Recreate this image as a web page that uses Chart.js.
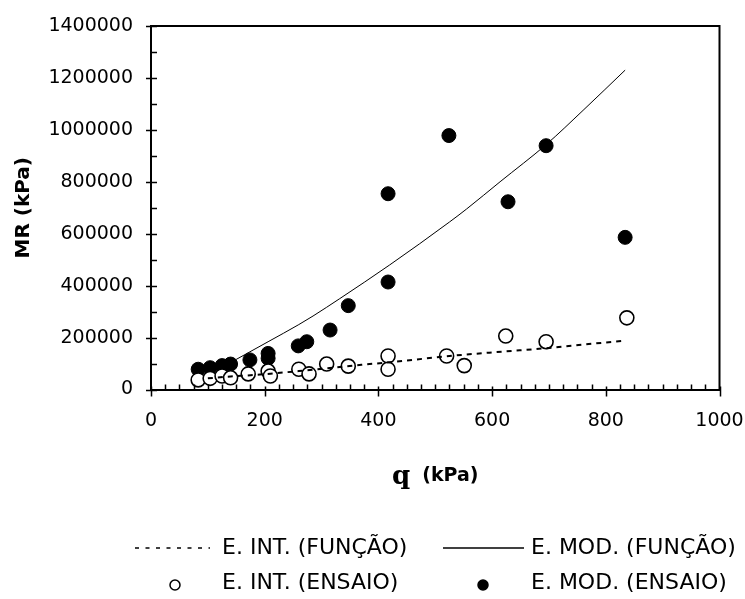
<!DOCTYPE html>
<html>
<head>
<meta charset="utf-8">
<title>MR x q</title>
<script src="https://cdn.jsdelivr.net/npm/chart.js@4.4.0/dist/chart.umd.min.js"></script>
<style>
  body { margin: 0; background: #fff; }
  #wrap { width: 745px; height: 599px; }
</style>
</head>
<body>
<div id="wrap"><canvas id="mrChart" width="745" height="599"></canvas></div>
<script>

// ensaio - modulo (pontos cheios)
var qModEnsaio  = [83, 104, 125, 140, 174, 206, 206, 259, 274, 315, 347, 417, 417, 524, 628, 695, 834];
var mrModEnsaio = [78000, 84000, 92000, 98000, 114000, 139000, 120000, 168000, 184000, 229000, 323000, 414000, 754000, 978000, 723000, 939000, 586000];

// ensaio - intermediario (pontos vazios)
var qIntEnsaio  = [83, 104, 125, 140, 171, 206, 210, 260, 278, 309, 347, 417, 417, 520, 551, 624, 695, 837];
var mrIntEnsaio = [37000, 43000, 52000, 45000, 60000, 71000, 52000, 78000, 60000, 98000, 90000, 129000, 78000, 129000, 92000, 206000, 184000, 276000];

// curvas das funcoes
var qModFuncao  = [140, 150, 206, 260, 285, 332, 420, 525, 555, 614, 696, 760, 834];
var mrModFuncao = [104000, 116000, 184000, 250000, 283000, 350000, 480000, 645000, 695000, 800000, 945000, 1075000, 1230000];

var qIntFuncao  = [100, 140, 175, 210, 260, 310, 370, 420, 490, 550, 620, 700, 780, 834];
var mrIntFuncao = [43000, 50000, 55000, 61000, 71000, 82000, 95000, 105000, 121000, 134000, 146000, 160000, 177000, 188000];

var xTicks = [0, 200, 400, 600, 800, 1000];
var yTicks = [0, 200000, 400000, 600000, 800000, 1000000, 1200000, 1400000];

var legendLabels = ['E. INT. (FUNÇÃO)', 'E. MOD. (FUNÇÃO)', 'E. INT. (ENSAIO)', 'E. MOD. (ENSAIO)'];

var FONT = 'DejaVu Sans';

function pts(xs, ys) {
  return xs.map(function (x, i) { return { x: x, y: ys[i] }; });
}

// moldura, marcas de escala, titulos dos eixos e legenda
var extras = {
  id: 'extras',
  afterDraw: function (chart) {
    var c = chart.ctx;
    var a = chart.chartArea;
    var xs = chart.scales.x;
    var ys = chart.scales.y;

    c.save();
    c.strokeStyle = '#000';
    c.lineWidth = 2;
    c.beginPath();
    c.moveTo(a.left, a.top);
    c.lineTo(a.right, a.top);
    c.lineTo(a.right, a.bottom);
    c.stroke();

    c.lineWidth = 1.5;
    c.beginPath();
    for (var v = ys.min; v <= ys.max; v += 100000) {
      var py = Math.round(ys.getPixelForValue(v)) + 0.5;
      if (v % 200000 === 0) {
        c.moveTo(a.left - 5, py); c.lineTo(a.left + 6, py);
      } else {
        c.moveTo(a.left, py); c.lineTo(a.left + 6, py);
      }
    }
    for (var u = xs.min; u <= xs.max; u += 25) {
      var px = Math.round(xs.getPixelForValue(u)) + 0.5;
      if (u % 200 === 0) {
        c.moveTo(px, a.bottom - 3); c.lineTo(px, a.bottom + 7);
      } else {
        c.moveTo(px, a.bottom - 5); c.lineTo(px, a.bottom);
      }
    }
    c.stroke();

    // titulo eixo y
    c.fillStyle = '#000';
    c.save();
    c.translate(24, (a.top + a.bottom) / 2);
    c.rotate(-Math.PI / 2);
    c.font = 'bold 20px "' + FONT + '"';
    c.textAlign = 'center';
    c.textBaseline = 'middle';
    c.fillText('MR (kPa)', 0, 0);
    c.restore();

    // titulo eixo x: "q" em serifa + "(kPa)"
    c.font = 'bold 26px "DejaVu Serif"';
    var wq = c.measureText('q').width;
    c.font = 'bold 19px "' + FONT + '"';
    var wk = c.measureText('(kPa)').width;
    var gap = 12;
    var x0 = (a.left + a.right) / 2 - (wq + gap + wk) / 2;
    c.textBaseline = 'alphabetic';
    c.textAlign = 'left';
    c.font = 'bold 26px "DejaVu Serif"';
    c.fillText('q', x0, 484);
    c.font = 'bold 19px "' + FONT + '"';
    c.fillText('(kPa)', x0 + wq + gap, 481);

    // legenda
    var ds = chart.data.datasets;
    var rows = [548, 583];
    var sym = [[135, 210], [443, 524]];
    var txt = [222, 531];
    c.font = '22px "' + FONT + '"';
    c.textBaseline = 'middle';
    for (var i = 0; i < 4; i++) {
      var col = i % 2, row = Math.floor(i / 2);
      var y = rows[row];
      var d = ds[i];
      if (d.showLine) {
        c.strokeStyle = '#000';
        c.lineWidth = 1.3;
        c.setLineDash(d.borderDash ? [4, 6.5] : []);
        c.beginPath();
        c.moveTo(sym[col][0], y);
        c.lineTo(sym[col][1], y);
        c.stroke();
        c.setLineDash([]);
      } else {
        var cx = col === 0 ? 175 : 483;
        c.beginPath();
        c.arc(cx, y + 2, 5, 0, Math.PI * 2);
        c.fillStyle = d.pointBackgroundColor;
        c.fill();
        c.lineWidth = 1.5;
        c.strokeStyle = '#000';
        c.stroke();
      }
      c.fillStyle = '#000';
      c.fillText(d.label, txt[col], y);
    }
    c.restore();
  }
};

var ctx = document.getElementById('mrChart').getContext('2d');
var chart = new Chart(ctx, {
  type: 'scatter',
  data: {
    datasets: [
      {
        label: legendLabels[0],
        data: pts(qIntFuncao, mrIntFuncao),
        showLine: true,
        borderColor: '#000',
        borderWidth: 2,
        borderDash: [5, 5],
        cubicInterpolationMode: 'monotone',
        pointRadius: 0,
        order: 1
      },
      {
        label: legendLabels[1],
        data: pts(qModFuncao, mrModFuncao),
        showLine: true,
        borderColor: '#000',
        borderWidth: 1,
        cubicInterpolationMode: 'monotone',
        pointRadius: 0,
        order: 2
      },
      {
        label: legendLabels[2],
        data: pts(qIntEnsaio, mrIntEnsaio),
        showLine: false,
        pointRadius: 7,
        pointBackgroundColor: '#fff',
        pointBorderColor: '#000',
        pointBorderWidth: 1.6,
        order: 3
      },
      {
        label: legendLabels[3],
        data: pts(qModEnsaio, mrModEnsaio),
        showLine: false,
        pointRadius: 7,
        pointBackgroundColor: '#000',
        pointBorderColor: '#000',
        pointBorderWidth: 1,
        order: 4
      }
    ]
  },
  options: {
    responsive: false,
    animation: false,
    devicePixelRatio: 1,
    layout: { padding: 0 },
    plugins: { legend: { display: false }, tooltip: { enabled: false } },
    scales: {
      x: {
        type: 'linear',
        min: 0,
        max: 1000,
        afterBuildTicks: function (s) { s.ticks = xTicks.map(function (v) { return { value: v }; }); },
        afterFit: function (s) { s.height = 209.5; s.paddingRight = 25.5; s.paddingLeft = 0; },
        ticks: {
          color: '#000',
          font: { family: FONT, size: 19 },
          padding: 20,
          maxRotation: 0,
          callback: function (v) { return String(v); }
        },
        grid: { display: false, drawTicks: false },
        border: { display: true, color: '#000', width: 2 }
      },
      y: {
        min: 0,
        max: 1400000,
        afterBuildTicks: function (s) { s.ticks = yTicks.map(function (v) { return { value: v }; }); },
        afterFit: function (s) { s.width = 151; s.paddingTop = 26; s.paddingBottom = 0; },
        ticks: {
          color: '#000',
          font: { family: FONT, size: 19 },
          padding: 18,
          callback: function (v) { return String(v); }
        },
        grid: { display: false, drawTicks: false },
        border: { display: true, color: '#000', width: 2 }
      }
    }
  },
  plugins: [extras]
});
</script>
</body>
</html>
